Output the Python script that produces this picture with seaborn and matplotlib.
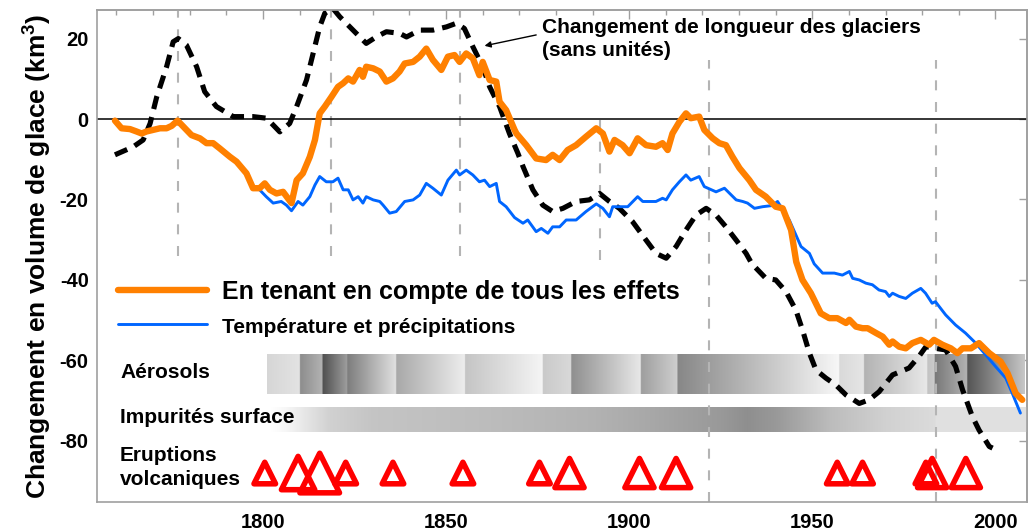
import numpy as np
import matplotlib
matplotlib.use("Agg")
import matplotlib.pyplot as plt
import seaborn as sns
from matplotlib.colors import LinearSegmentedColormap
from matplotlib.lines import Line2D
from matplotlib.ticker import MultipleLocator

# consts
ORANGE = "#ff8000"
BLUE = "#0066ff"
GRID_GRAY = "#b4b4b4"
SPINE_GRAY = "#a0a0a0"

# glacier volume, all effects (km3)
all_years = [1759.6, 1761.4, 1763.7, 1765.5, 1766.9, 1768.2, 1770.1, 1771.9, 1773.7, 1775.1,
             1776.7, 1778.7, 1780.5, 1782.8, 1784.6, 1786.4, 1788.2, 1791.0, 1792.8, 1795.5,
             1797.3, 1799.1, 1800.5, 1801.9, 1803.7, 1805.5, 1807.8, 1809.2, 1810.9, 1812.8,
             1814.2, 1815.5, 1816.9, 1818.7, 1820.5, 1821.9, 1823.3, 1824.6, 1826.4, 1827.3,
             1828.2, 1830.1, 1831.9, 1833.7, 1835.5, 1837.3, 1838.7, 1841.0, 1842.8, 1844.6,
             1846.4, 1848.7, 1850.5, 1852.3, 1853.7, 1855.5, 1857.3, 1859.1, 1860.0, 1861.9,
             1863.7, 1864.6, 1866.4, 1868.7, 1869.2, 1871.9, 1874.6, 1877.3, 1879.1, 1881.0,
             1883.2, 1885.5, 1888.2, 1891.0, 1892.8, 1894.6, 1896.0, 1898.2, 1900.1, 1902.3,
             1904.6, 1907.3, 1909.1, 1910.5, 1911.8, 1913.7, 1915.5, 1916.8, 1919.1, 1920.5,
             1922.8, 1924.6, 1926.4, 1928.2, 1930.1, 1932.8, 1934.6, 1937.3, 1940.0, 1941.9,
             1944.2, 1945.6, 1947.3, 1949.6, 1952.3, 1954.6, 1956.8, 1959.2, 1960.1, 1961.9,
             1963.7, 1965.1, 1967.4, 1969.2, 1971.0, 1971.9, 1973.7, 1975.5, 1977.3, 1979.6,
             1981.9, 1983.2, 1985.5, 1987.8, 1989.6, 1991.0, 1993.3, 1995.5, 1998.3, 2001.4,
             2003.3, 2005.5, 2007.3]
all_vals = [-0.4, -2.3, -2.5, -3.1, -3.6, -3.1, -2.7, -2.3, -2.3, -1.7,
            -0.4, -2.3, -4.0, -4.8, -6.0, -6.0, -7.3, -9.4, -10.6, -13.5,
            -17.2, -17.2, -16.0, -17.6, -18.5, -18.1, -20.9, -15.2, -13.5, -9.4,
            -5.2, 1.4, 3.1, 5.5, 8.0, 8.9, 10.1, 9.3, 12.2, 10.5,
            13.0, 12.6, 11.8, 9.3, 10.1, 11.8, 13.8, 14.2, 15.5, 17.5,
            14.7, 12.2, 15.5, 15.9, 14.2, 16.3, 15.1, 10.9, 14.2, 9.7,
            9.3, 4.3, 2.2, -2.7, -3.6, -6.5, -9.8, -10.2, -8.9, -10.2,
            -7.7, -6.5, -4.4, -2.3, -3.6, -8.1, -5.2, -6.5, -8.5, -4.8,
            -6.5, -6.9, -6.0, -7.7, -3.6, -0.7, 1.4, 0.2, 0.6, -2.7,
            -4.8, -6.0, -6.5, -9.4, -12.2, -15.2, -17.6, -19.3, -21.8, -22.2,
            -27.6, -35.5, -40.0, -43.3, -48.3, -49.5, -49.5, -50.7, -49.9, -51.6,
            -52.0, -52.0, -53.2, -54.1, -56.1, -55.3, -56.6, -57.0, -55.7, -54.9,
            -56.1, -54.9, -56.1, -57.0, -58.2, -57.0, -57.0, -55.7, -58.2, -60.3,
            -63.2, -68.2, -69.8]

# temperature and precipitation only
tp_years = [1799.1, 1800.9, 1802.8, 1805.0, 1806.4, 1807.8, 1809.6, 1810.9, 1812.8, 1814.2,
            1815.5, 1817.3, 1819.1, 1820.5, 1821.9, 1823.3, 1824.6, 1826.0, 1827.3, 1828.2,
            1830.1, 1831.9, 1832.8, 1834.6, 1836.4, 1838.7, 1841.0, 1842.8, 1844.6, 1846.4,
            1848.7, 1850.5, 1852.8, 1853.7, 1855.5, 1857.3, 1859.1, 1860.5, 1861.9, 1863.7,
            1864.6, 1866.4, 1868.7, 1871.0, 1872.3, 1874.6, 1876.0, 1877.8, 1879.1, 1881.0,
            1882.8, 1885.5, 1888.2, 1891.0, 1892.8, 1894.6, 1895.5, 1897.3, 1899.6, 1902.3,
            1903.7, 1907.3, 1909.1, 1910.1, 1911.8, 1913.7, 1915.5, 1916.8, 1919.1, 1920.5,
            1923.7, 1926.0, 1929.2, 1931.0, 1932.3, 1934.2, 1936.4, 1939.1, 1940.5, 1943.7,
            1946.9, 1949.2, 1950.5, 1952.8, 1956.0, 1958.2, 1960.1, 1961.0, 1962.8, 1964.6,
            1966.4, 1968.2, 1970.0, 1971.0, 1971.9, 1973.7, 1975.5, 1977.3, 1979.6, 1980.9,
            1982.7, 1983.6, 1986.4, 1989.1, 1991.8, 1994.6, 1997.3, 2000.0, 2002.8, 2004.6,
            2006.8]
tp_vals = [-17.6, -19.3, -20.9, -20.5, -21.4, -22.8, -20.5, -21.4, -19.3, -16.4,
           -14.3, -15.6, -15.6, -14.7, -17.6, -17.6, -20.1, -19.3, -20.9, -19.3,
           -20.1, -20.5, -21.4, -23.4, -23.0, -20.5, -20.1, -18.9, -16.0, -17.2,
           -18.9, -15.2, -12.7, -13.9, -12.7, -13.9, -15.6, -15.2, -16.8, -16.0,
           -20.5, -21.8, -24.5, -25.9, -25.1, -28.0, -27.2, -28.4, -26.8, -26.8,
           -25.1, -25.1, -23.0, -21.1, -22.2, -24.3, -21.8, -21.8, -21.8, -19.3,
           -20.5, -20.5, -19.7, -20.1, -17.6, -15.6, -13.9, -15.2, -14.3, -16.8,
           -18.1, -17.2, -20.1, -20.5, -20.9, -22.2, -21.8, -21.5, -20.5, -25.1,
           -31.7, -33.4, -36.0, -38.3, -38.3, -38.8, -37.9, -39.6, -40.0, -40.8,
           -41.2, -42.5, -42.9, -44.1, -43.3, -44.1, -44.6, -43.3, -42.1, -43.3,
           -45.8, -45.4, -48.7, -51.2, -53.2, -55.7, -58.6, -61.5, -64.4, -68.2,
           -73.1]

# glacier length change (no units)
len_years = [1759.6, 1764.6, 1767.3, 1769.2, 1771.0, 1773.7, 1775.5, 1776.9, 1779.1, 1781.9,
             1784.1, 1787.3, 1791.9, 1797.3, 1801.0, 1804.6, 1807.3, 1809.2, 1811.9, 1813.7,
             1815.5, 1816.9, 1819.1, 1821.0, 1824.6, 1828.2, 1830.9, 1833.7, 1837.3, 1839.2,
             1842.8, 1846.4, 1850.1, 1852.8, 1855.0, 1857.3, 1860.0, 1861.9, 1864.6, 1867.3,
             1869.6, 1871.0, 1873.7, 1876.4, 1879.1, 1881.9, 1885.5, 1889.1, 1891.9, 1894.6,
             1897.3, 1900.9, 1904.6, 1907.3, 1910.1, 1912.8, 1915.5, 1918.2, 1921.0, 1923.7,
             1926.4, 1929.2, 1931.9, 1933.5, 1937.3, 1940.0, 1942.8, 1945.5, 1947.3, 1949.2,
             1951.0, 1953.7, 1956.4, 1959.2, 1962.8, 1965.5, 1968.2, 1971.9, 1976.4, 1979.1,
             1981.0, 1983.6, 1986.4, 1989.1, 1991.0, 1993.7, 1995.5, 1998.3, 1999.2]
len_vals = [-8.9, -6.9, -5.2, -1.1, 5.5, 13.0, 19.2, 20.0, 18.4, 13.0,
            6.8, 3.1, 0.6, 0.6, 0.2, -3.2, -1.1, 3.1, 9.7, 16.3,
            22.9, 26.3, 27.5, 25.4, 22.1, 18.8, 20.4, 21.7, 21.3, 20.4,
            22.1, 22.1, 22.9, 23.8, 22.5, 18.0, 13.0, 8.0, 3.1, -3.6,
            -8.5, -11.8, -17.6, -21.4, -23.0, -22.2, -20.5, -20.1, -18.5, -20.5,
            -22.2, -25.5, -30.1, -33.4, -34.6, -31.7, -27.6, -23.9, -22.2, -23.9,
            -26.8, -30.1, -33.4, -36.0, -39.6, -40.0, -42.9, -47.5, -52.4, -58.2,
            -62.4, -64.4, -66.1, -68.6, -70.7, -69.8, -67.8, -63.6, -61.9, -59.0,
            -56.6, -57.0, -57.4, -61.5, -67.3, -74.0, -77.3, -81.4, -81.8]

# volcanic eruptions (year, relative size class)
eruption_years = [1800.5, 1809.6, 1815.5, 1822.6, 1835.5, 1854.6, 1875.5, 1883.7,
                  1902.8, 1912.8, 1956.8, 1963.7, 1981.0, 1982.7, 1991.9]
eruption_class = [1, 3, 4, 1, 1, 1, 1, 2, 2, 2, 1, 1, 1, 2, 2]
marker_pts = {1: 15.5, 2: 21, 3: 24, 4: 28.5}

# aerosol forcing shading: segment edges and grey level at start / end of each
aerosol_edges = [1801.2, 1810.1, 1816.3, 1823.1, 1836.4, 1855.2, 1876.4, 1884.2,
                 1903.2, 1913.2, 1957.3, 1964.1, 1981.4, 1983.4, 1992.3, 2008.0]
aerosol_start = [0.84, 0.55, 0.31, 0.49, 0.66, 0.77, 0.79, 0.56, 0.62, 0.53,
                 0.85, 0.70, 0.76, 0.47, 0.33]
aerosol_end = [0.89, 0.70, 0.62, 0.88, 0.93, 0.96, 0.85, 0.91, 0.81, 0.97,
               0.90, 0.91, 0.80, 0.70, 0.78]

# surface impurities shading (year, grey level)
impurity_years = [1802.1, 1806, 1818, 1830, 1860, 1890, 1905, 1925, 1932, 1940,
                  1955, 1970, 1983.2, 1983.6, 2008.3]
impurity_gray = [1.0, 0.97, 0.82, 0.77, 0.74, 0.70, 0.66, 0.60, 0.56, 0.60,
                 0.74, 0.82, 0.86, 0.88, 0.88]

# reference years (dashed grey), with vertical extent
vline_years = [1776.8, 1818.5, 1853.7, 1891.9, 1921.9, 1983.8]
vline_low = [-34, -34, -34, -35, -95.2, -95.2]
vline_high = [27.1, 27.1, 27.1, 0, 14.7, 14.7]

sns.set_style("white")
plt.rcParams["font.family"] = ["Liberation Sans", "DejaVu Sans"]
plt.rcParams["font.weight"] = "bold"
plt.rcParams["text.color"] = "black"
plt.rcParams["axes.labelcolor"] = "black"
plt.rcParams["axes.unicode_minus"] = False
plt.rcParams["mathtext.default"] = "regular"

fig = plt.figure(figsize=(10.3, 5.32), dpi=100)
ax = fig.add_axes([97 / 1030, 30 / 532, 930 / 1030, 492 / 532])

# aerosol band
x0, x1 = aerosol_edges[0], aerosol_edges[-1]
pos = [(e - x0) / (x1 - x0) for e in aerosol_edges]
chan = [(0.0, aerosol_start[0], aerosol_start[0])]
for i in range(1, len(pos) - 1):
    chan.append((pos[i], aerosol_end[i - 1], aerosol_start[i]))
chan.append((1.0, aerosol_end[-1], aerosol_end[-1]))
aero_cmap = LinearSegmentedColormap("aero", {"red": chan, "green": chan, "blue": chan}, N=2048)
grad = np.linspace(0, 1, 2048)[None, :]
ax.imshow(grad, cmap=aero_cmap, extent=[x0, x1, -68.3, -58.6], aspect="auto",
          interpolation="bilinear", zorder=1)

# surface impurities band
ix0, ix1 = impurity_years[0], impurity_years[-1]
imp_cmap = LinearSegmentedColormap.from_list(
    "imp", [((y - ix0) / (ix1 - ix0), (g, g, g)) for y, g in zip(impurity_years, impurity_gray)], N=2048)
ax.imshow(grad, cmap=imp_cmap, extent=[ix0, ix1, -77.8, -71.6], aspect="auto",
          interpolation="bilinear", zorder=1)

ax.vlines(vline_years, vline_low, vline_high, colors=GRID_GRAY, linewidth=1.5,
          linestyles=(0, (4.8, 5.6)), zorder=1.5)
ax.axhline(0, color="black", linewidth=1.1, zorder=1.6)

sns.lineplot(x=len_years, y=len_vals, ax=ax, color="black", linewidth=3.7,
             linestyle=(0, (2.6, 1.6)), dash_capstyle="butt", zorder=2)
sns.lineplot(x=tp_years, y=tp_vals, ax=ax, color=BLUE, linewidth=2.1, zorder=3)
sns.lineplot(x=all_years, y=all_vals, ax=ax, color=ORANGE, linewidth=4.6, zorder=4)

sns.scatterplot(x=eruption_years, y=[-88] * len(eruption_years), ax=ax, marker="^",
                s=[marker_pts[c] ** 2 for c in eruption_class], facecolor="none",
                edgecolor="red", linewidth=4.0, zorder=5, clip_on=False)

# labels inside the plot
lbl = dict(fontsize=15, fontweight="bold", ha="left", va="center")
ax.text(1761, -62.9, "Aérosols", **lbl)
ax.text(1761, -74.3, "Impurités surface", **lbl)
ax.text(1761, -86.7, "Eruptions\nvolcaniques", linespacing=1.35, **lbl)

ax.text(1876.3, 25.0, "Changement de longueur des glaciers\n(sans unités)",
        fontsize=15, fontweight="bold", ha="left", va="top", linespacing=1.25)
ax.annotate("", xy=(1860.5, 18.2), xytext=(1874.6, 20.9),
            arrowprops=dict(arrowstyle="-|>", color="black", lw=1.0, mutation_scale=9,
                            shrinkA=0, shrinkB=0))

handles = [Line2D([], [], color=ORANGE, lw=4.6), Line2D([], [], color=BLUE, lw=2.1)]
leg = ax.legend(handles, ["En tenant en compte de tous les effets", "Température et précipitations"],
                loc="upper left", bbox_to_anchor=(0.0226, 0.452), frameon=False,
                handlelength=3.56, handletextpad=0.6, borderpad=0, borderaxespad=0,
                labelspacing=0.46, prop={"weight": "bold", "size": 18})
leg.get_texts()[1].set_fontsize(15)

# axes, ticks
ax.set_xlim(1754.7, 2008.6)
ax.set_ylim(-95.2, 27.1)
ax.set_xticks([1800, 1850, 1900, 1950, 2000])
ax.xaxis.set_minor_locator(MultipleLocator(10))
ax.set_yticks([20, 0, -20, -40, -60, -80])
ax.yaxis.set_minor_locator(MultipleLocator(5))
ax.tick_params(axis="x", which="major", direction="in", length=7.5, width=1, color=SPINE_GRAY,
               labelcolor="black", labelsize=14.5, pad=8)
ax.tick_params(axis="x", which="minor", direction="in", length=3.8, width=1, color=SPINE_GRAY)
ax.tick_params(axis="y", which="major", direction="in", length=13, width=1, color=SPINE_GRAY,
               labelcolor="black", labelsize=14.5, pad=6)
ax.tick_params(axis="y", which="minor", direction="in", length=6.5, width=1, color=SPINE_GRAY)
ax.set_ylabel("Changement en volume de glace (km$^3$)", fontsize=19, fontweight="bold", labelpad=4)

top = ax.secondary_xaxis("top")
top.set_xticks([1800, 1850, 1900, 1950, 2000])
top.xaxis.set_minor_locator(MultipleLocator(10))
top.tick_params(which="major", direction="in", length=6.5, width=1, color=SPINE_GRAY, labeltop=False)
top.tick_params(which="minor", direction="in", length=3.6, width=1, color=SPINE_GRAY)
right = ax.secondary_yaxis("right")
right.set_yticks([20, 0, -20, -40, -60, -80])
right.tick_params(direction="in", length=6, width=1, color=SPINE_GRAY, labelright=False)

for a in (ax, top, right):
    for sp in a.spines.values():
        sp.set_color(SPINE_GRAY)
        sp.set_linewidth(1.2)

fig.savefig("out.png", dpi=100)
